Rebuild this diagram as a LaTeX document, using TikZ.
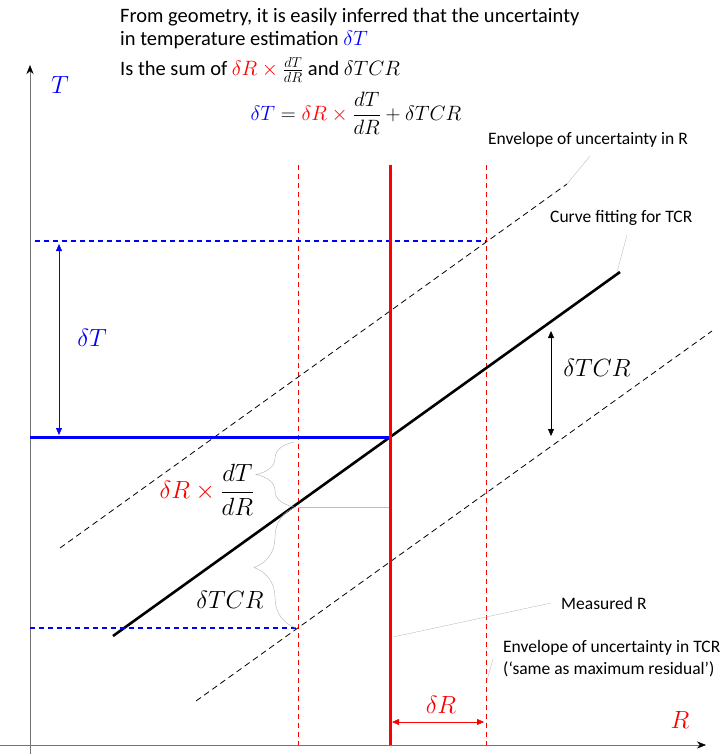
\documentclass[tikz,border=0pt]{standalone}
\usepackage{fontspec}
\usepackage{amsmath}
\setmainfont{Carlito}
\usetikzlibrary{arrows.meta,decorations.pathreplacing}

\tikzset{
  axis/.style={black!55,-{Stealth[black,length=9pt,width=7pt]}},
  fitline/.style={line width=2.6pt,black},
  envelope/.style={black,line width=0.8pt,dash pattern=on 6pt off 4pt},
  rband/.style={red,line width=0.7pt,dash pattern=on 5pt off 4pt},
  bdash/.style={draw=blue,line width=1.1pt,dash pattern=on 5pt off 4pt},
  leader/.style={black!25},
  dim/.style={<->,>={Triangle[length=7pt,width=6pt]}},
  txt/.style={anchor=west,inner sep=0pt,font=\fontsize{20.5}{24}\selectfont},
  lbl/.style={anchor=west,inner sep=0pt,align=left,font=\fontsize{17.5}{22}\selectfont},
  mlbl/.style={inner sep=0pt,font=\fontsize{23}{27}\selectfont},
  brc/.style={decorate,black!30},
}
\newcommand{\rtimes}{\mathbin{\textcolor{red}{\times}}}

\begin{document}
\begin{tikzpicture}[x=1pt,y=-1pt]
  \useasboundingbox (0,0) rectangle (723,754);
  % axes
  \draw[axis] (30,754) -- (30,65);
  \draw[axis] (0,745) -- (706,745);
  \node[mlbl,blue] (Tlab) at (60,85) {$T$};
  \node[mlbl,red] (Rlab) at (680,720) {$R$};
  % measured point and bands
  \coordinate (M) at (390,437);
  \coordinate (Rlo) at (298,507);
  \coordinate (Tlo) at (298,628);
  \coordinate (Thi) at (486,241);
  \draw[rband] (298,165) -- (298,745);
  \draw[rband] (486,165) -- (486,745);
  \draw[leader] (Rlo) -- (390,507);
  \draw[envelope] (60,548) coordinate (e1a) -- (567,184) coordinate (e1b);
  \draw[envelope] (196,701) coordinate (e2a) -- (712,331) coordinate (e2b);
  \draw[fitline] (113,636) coordinate (fa) -- (620,272) coordinate (fb);
  \draw[bdash] (35,241) -- (Thi);
  \draw[bdash] (30,628) -- (Tlo);
  \draw[blue,line width=3pt] (30,437) -- (M);
  \draw[red,line width=3pt] (390,165) -- (390,745);
  % dimension arrows
  \draw[dim,blue] (59,244) -- (59,435);
  \node[mlbl,blue] (dT) at (92,338) {$\delta T$};
  \draw[dim] (551,331) -- (551,436);
  \node[mlbl] (dTCR) at (597,368) {$\delta TCR$};
  \draw[dim,red] (392,722) -- (484,722);
  \node[mlbl,red] (dR) at (441,705) {$\delta R$};
  % braces
  \draw[brc,decoration={brace,amplitude=38pt}] (294,507) -- (294,442);
  \draw[brc,decoration={brace,amplitude=42pt}] (296,628) -- (296,507);
  \node[inner sep=0pt,font=\fontsize{27}{31}\selectfont] (slope) at (207,490)
    {$\textcolor{red}{\delta R}\rtimes\dfrac{dT}{dR}$};
  \node[inner sep=0pt,font=\fontsize{24}{28}\selectfont] (tcr) at (230,600) {$\delta TCR$};
  % text
  \node[txt] (l1) at (120,17) {From geometry, it is easily inferred that the uncertainty};
  \node[txt] (l2) at (120,40) {in temperature estimation \textcolor{blue}{$\delta T$}};
  \node[txt] (l3) at (120,70) {Is the sum of $\textcolor{red}{\delta R}\rtimes\frac{dT}{dR}$ and $\delta TCR$};
  \node[inner sep=0pt,font=\fontsize{22}{26}\selectfont] (eq) at (356,113)
    {$\textcolor{blue}{\delta T}=\textcolor{red}{\delta R}\rtimes\dfrac{dT}{dR}+\delta TCR$};
  % labels with leaders
  \node[lbl] (envR) at (488,140) {Envelope of uncertainty in R};
  \node[lbl] (fitlab) at (550,218) {Curve fitting for TCR};
  \node[lbl] (measlab) at (561,603) {Measured R};
  \node[lbl] (envT) at (503,659) {Envelope of uncertainty in TCR\\(`same as maximum residual')};
  \draw[leader] (e1b) -- (590,156);
  \draw[leader] (617,272) -- (627,235);
  \draw[leader] (393,637) -- ([xshift=-10pt]measlab.west);
  \draw[leader] (487,680) -- (493,659);
\end{tikzpicture}
\end{document}
